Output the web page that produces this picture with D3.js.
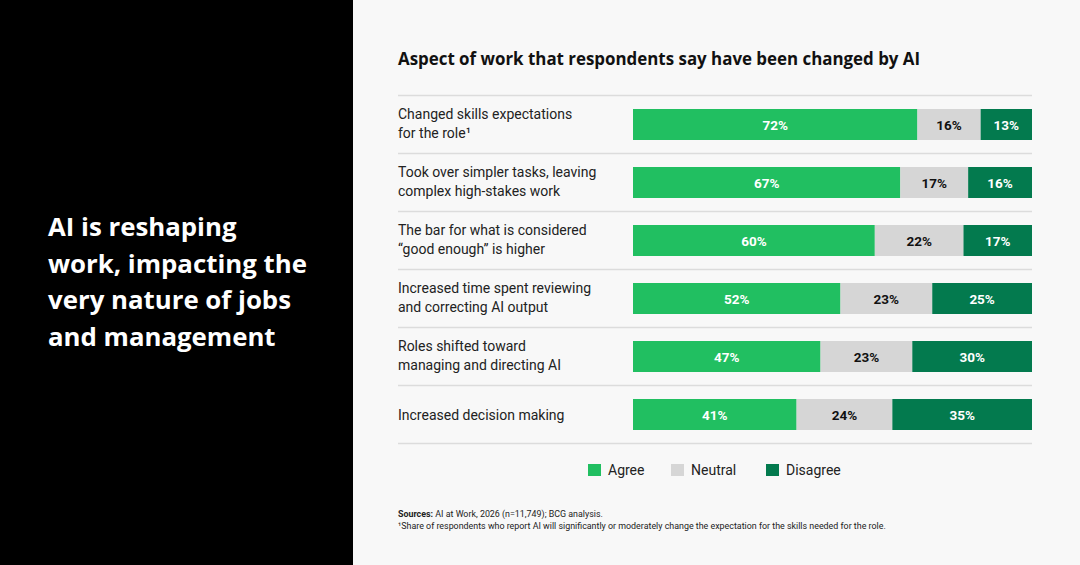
<!DOCTYPE html>
<html>
<head>
<meta charset="utf-8">
<script src="https://cdn.jsdelivr.net/npm/d3@7"></script>
<style>
  body { margin: 0; background: #f8f8f8; }
  svg { display: block; font-family: Roboto, "Noto Sans", sans-serif; }
</style>
</head>
<body>
<div id="chart"></div>
<script>
const categories = [
  ['Changed skills expectations', 'for the role\u00b9'],
  ['Took over simpler tasks, leaving', 'complex high-stakes work'],
  ['The bar for what is considered', '\u201cgood enough\u201d is higher'],
  ['Increased time spent reviewing', 'and correcting AI output'],
  ['Roles shifted toward', 'managing and directing AI'],
  ['Increased decision making']
]
const agree    = [72, 67, 60, 52, 47, 41]
const neutral  = [16, 17, 22, 23, 23, 24]
const disagree = [13, 16, 17, 25, 30, 35]
const seriesNames = ['Agree', 'Neutral', 'Disagree']
const headline = ['AI is reshaping', 'work, impacting the', 'very nature of jobs', 'and management']
const title = 'Aspect of work that respondents say have been changed by AI'
const sourceNote = 'AI at Work, 2026 (n=11,749); BCG analysis.'
const footNote = '\u00b9Share of respondents who report AI will significantly or moderately change the expectation for the skills needed for the role.'

const width = 1080
    , height = 565
    , colors = ['#21bf61', '#d6d6d6', '#037a4e']
    , textColors = ['#fff', '#111', '#fff']
    , boldFont = '"Open Sans", Roboto, sans-serif'
    ;

const svg = d3.select('#chart').append('svg')
    .attr('width', width)
    .attr('height', height)

// dark side panel
svg.append('rect').attr('width', 353).attr('height', height).attr('fill', '#000')
svg.append('rect').attr('x', 353).attr('width', width - 353).attr('height', height).attr('fill', '#f8f8f8')

svg.append('g')
    .attr('fill', '#fff')
    .attr('font-family', boldFont)
    .attr('font-size', 25.8)
    .attr('font-weight', 700)
  .selectAll('text')
  .data(headline)
  .join('text')
    .attr('x', 48)
    .attr('y', (d, i) => 236 + i * 36.7)
    .text(d => d)

svg.append('text')
    .attr('x', 398)
    .attr('y', 65)
    .attr('font-family', boldFont)
    .attr('font-size', 16.9)
    .attr('font-weight', 700)
    .attr('fill', '#111')
    .text(title)

const rows = categories.map((c, i) => ({
  label: c,
  values: [agree[i], neutral[i], disagree[i]]
}))

const y = d3.scaleBand()
    .domain(d3.range(rows.length))
    .range([95.5, 443.5])
    .paddingInner(0)

const barLeft = 633
    , barRight = 1032
    , barH = 31
    ;

// separators
svg.append('g')
    .attr('stroke', '#dcdcdc')
    .attr('stroke-width', 1.5)
  .selectAll('line')
  .data(d3.range(rows.length + 1))
  .join('line')
    .attr('x1', 398)
    .attr('x2', barRight)
    .attr('y1', i => i < rows.length ? y(i) : y(rows.length - 1) + y.bandwidth())
    .attr('y2', i => i < rows.length ? y(i) : y(rows.length - 1) + y.bandwidth())

const row = svg.append('g')
  .selectAll('g')
  .data(rows)
  .join('g')
    .attr('transform', (d, i) => `translate(0,${y(i) + y.bandwidth() / 2})`)

row.append('text')
    .attr('font-size', 14)
    .attr('fill', '#222')
  .selectAll('tspan')
  .data(d => d.label.map((t, j) => ({ t, j, n: d.label.length })))
  .join('tspan')
    .attr('x', 398)
    .attr('y', d => d.n === 1 ? 5 : -6 + d.j * 19.4)
    .text(d => d.t)

row.each(function(d) {
  const total = d3.sum(d.values)
      , x = d3.scaleLinear().domain([0, total]).range([barLeft, barRight])
      , starts = d3.cumsum([0].concat(d.values))
      , segs = d.values.map((v, k) => ({ v, k, x0: starts[k], x1: starts[k] + v }))
      , g = d3.select(this)
      ;

  g.selectAll('rect')
    .data(segs)
    .join('rect')
      .attr('x', s => x(s.x0))
      .attr('width', s => x(s.x1) - x(s.x0))
      .attr('y', -barH / 2)
      .attr('height', barH)
      .attr('fill', s => colors[s.k])

  g.selectAll('text.val')
    .data(segs)
    .join('text')
      .attr('class', 'val')
      .attr('x', s => (x(s.x0) + x(s.x1)) / 2)
      .attr('y', 5)
      .attr('text-anchor', 'middle')
      .attr('font-size', 13.5)
      .attr('font-weight', 700)
      .attr('fill', s => textColors[s.k])
      .text(s => s.v + '%')
})

// legend
const legendX = [588, 671, 766]
const legend = svg.append('g')
  .selectAll('g')
  .data(seriesNames)
  .join('g')
    .attr('transform', (d, i) => `translate(${legendX[i]},464)`)

legend.append('rect')
    .attr('width', 13)
    .attr('height', 12)
    .attr('fill', (d, i) => colors[i])

legend.append('text')
    .attr('x', 20)
    .attr('y', 11)
    .attr('font-size', 14)
    .attr('fill', '#222')
    .text(d => d)

// notes
const notes = svg.append('g')
    .attr('font-size', 8.9)
    .attr('fill', '#222')

const src = notes.append('text').attr('x', 398).attr('y', 517)
src.append('tspan').attr('font-weight', 700).text('Sources: ')
src.append('tspan').text(sourceNote)

notes.append('text').attr('x', 398).attr('y', 528.5).text(footNote)
</script>
</body>
</html>
